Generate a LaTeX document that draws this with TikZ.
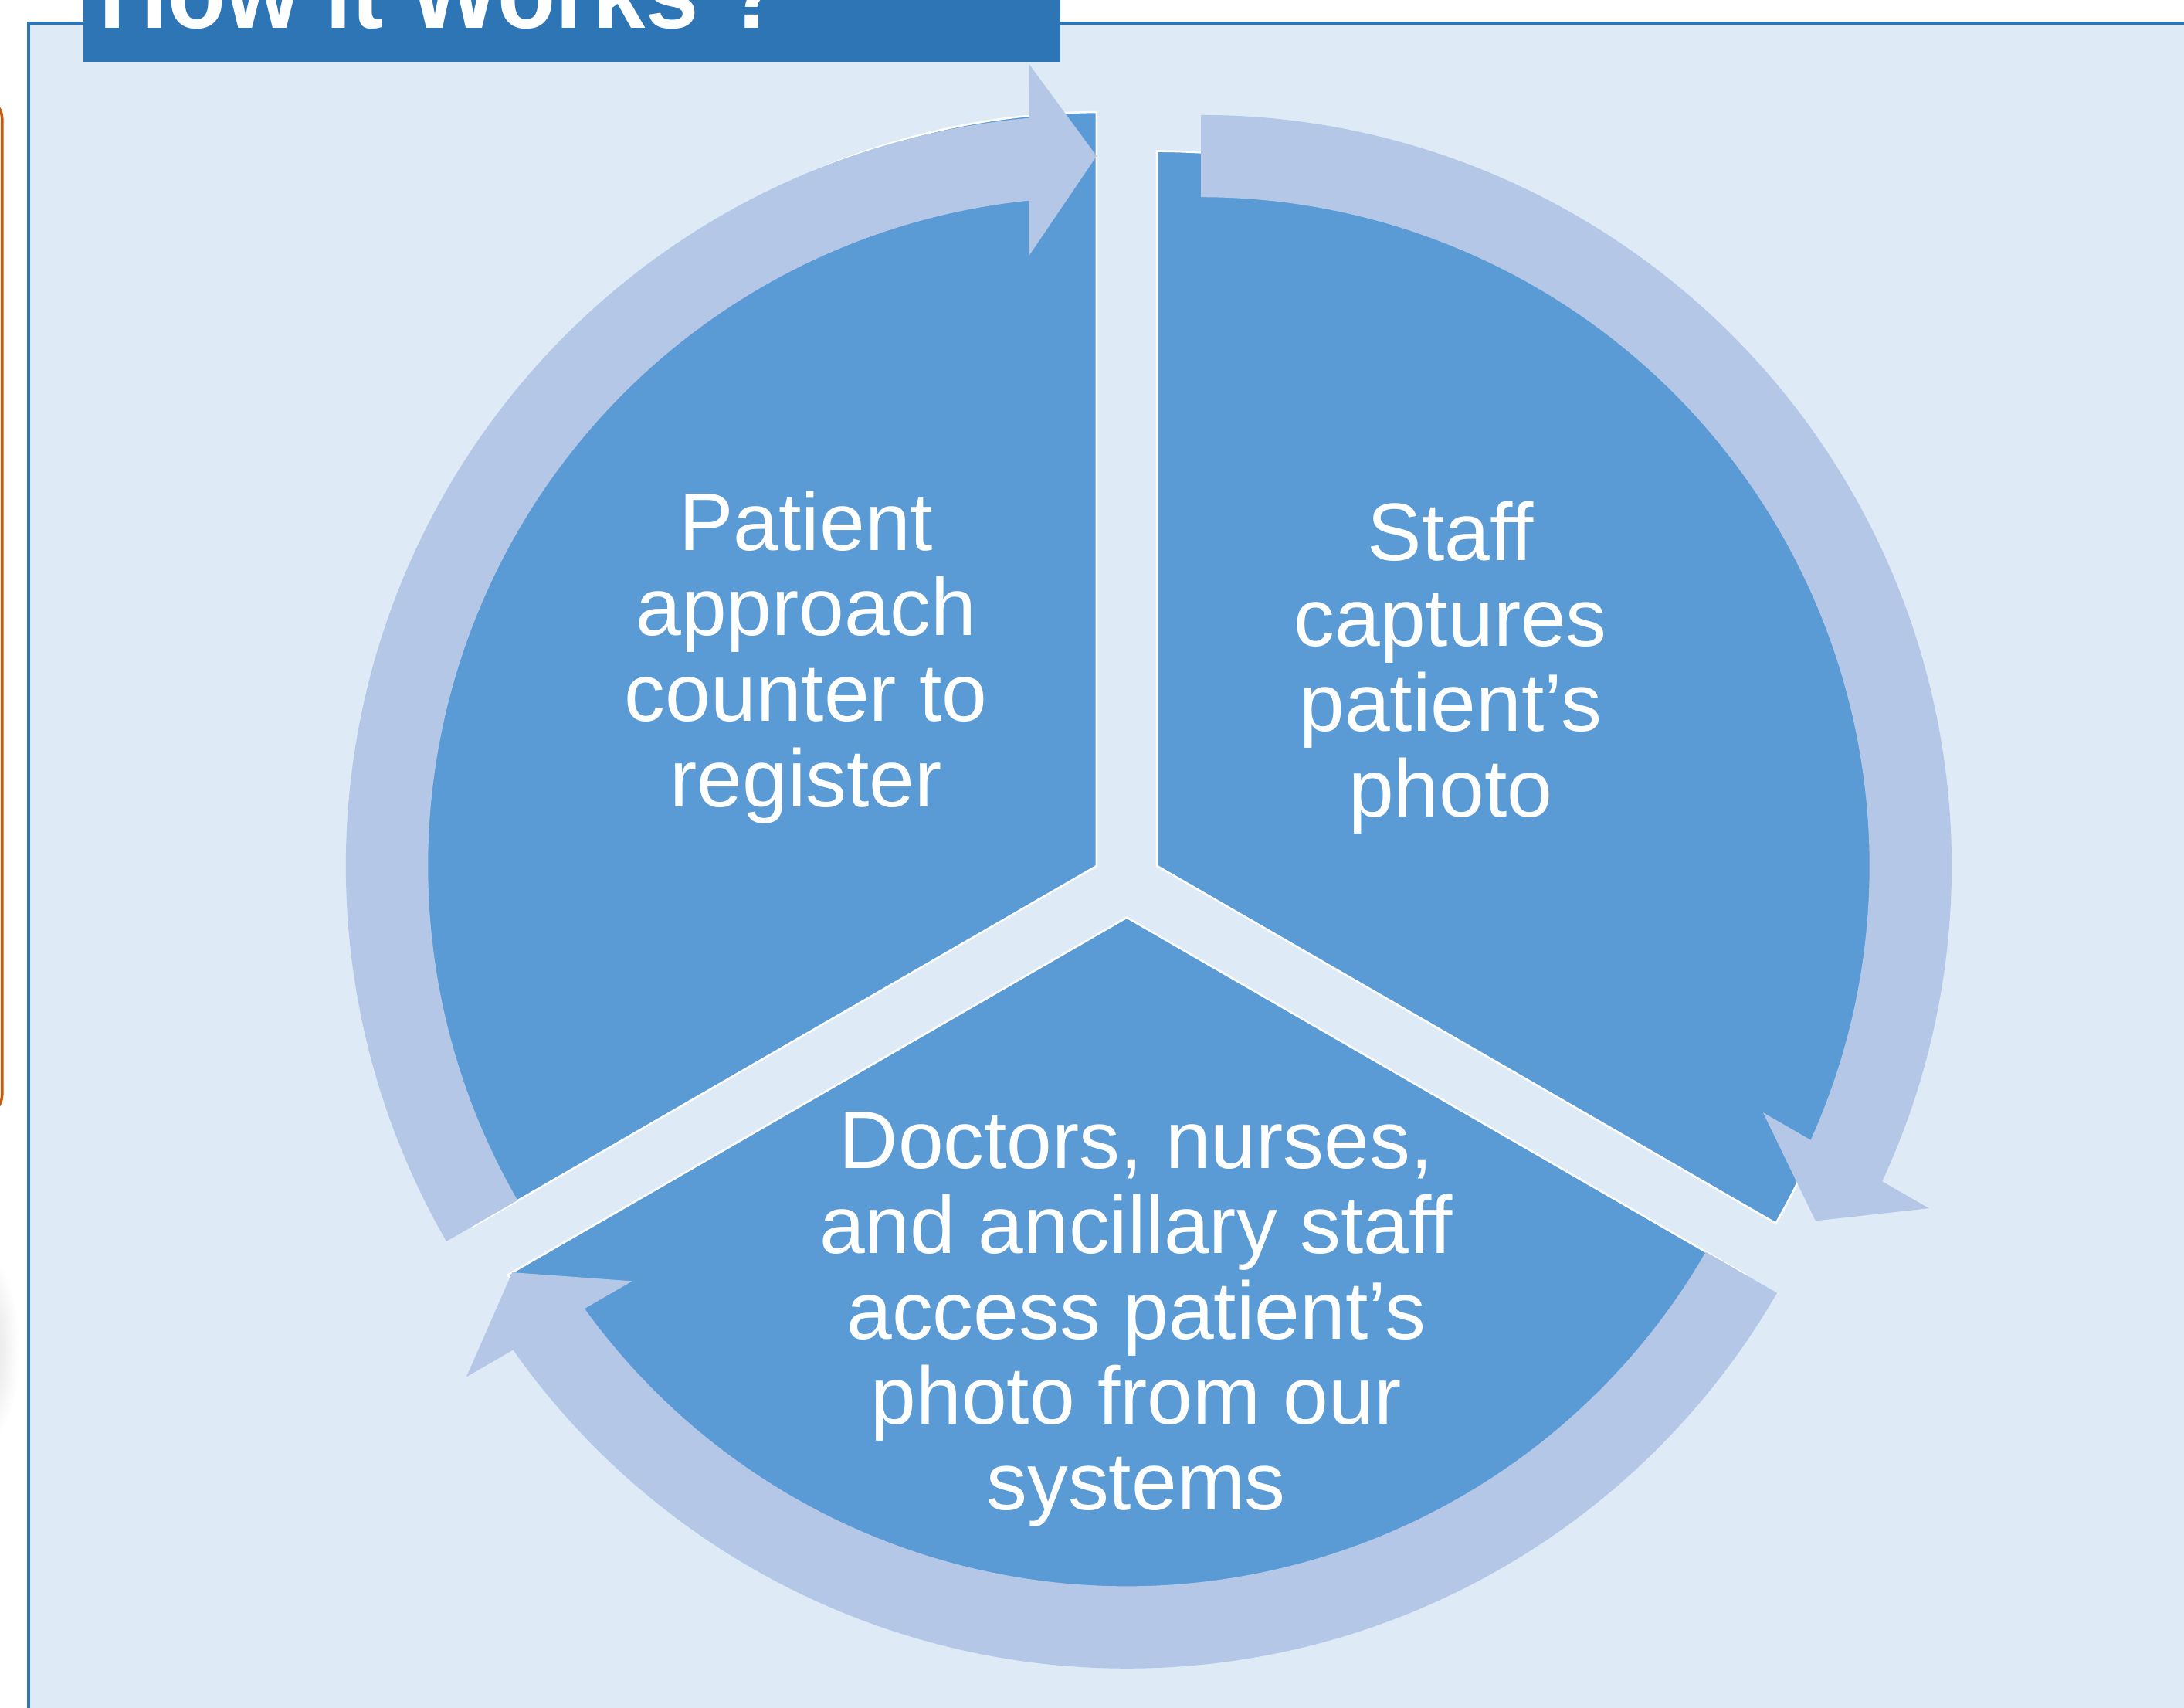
\documentclass[tikz,border=0pt]{standalone}
\usepackage{fontspec}
\setmainfont{Liberation Sans}
\definecolor{panelblue}{HTML}{DEEBF7}
\definecolor{frameblue}{HTML}{2E75B6}
\definecolor{wedgeblue}{HTML}{5B9BD5}
\definecolor{ringblue}{HTML}{B4C7E7}
\definecolor{edgeorange}{HTML}{C55A11}
\tikzset{
  wedge/.style={fill=wedgeblue,draw=white,line width=0.4pt},
  ring/.style={fill=ringblue},
  steptext/.style={text=white,align=center,inner sep=0pt,font=\fontsize{16.65pt}{17.44pt}\selectfont}
}
\begin{document}
\begin{tikzpicture}[x=0.01cm,y=0.01cm]
                  \useasboundingbox (0,0) rectangle (1568,-1225.9);
                  \clip (0,0) rectangle (1568,-1225.9);
                  \fill[white] (0,0) rectangle (1568,-1225.9);
                  \shade[inner color=black!14,outer color=white] (-12,-968) ellipse [x radius=26,y radius=70];
                  \draw[color=edgeorange,line width=0.57pt,rounded corners=4pt] (-40,-71) -- (1.5,-71) -- (1.5,-800) -- (-40,-800);
                  \fill[color=panelblue] (20.5,-16.5) rectangle (1600,-1260);
                  \draw[color=frameblue,line width=0.65pt] (20.5,-1260) -- (20.5,-16.5) -- (1600,-16.5);
                  \fill[color=frameblue] (60,10) rectangle (761.1,-44.4);
                  \node[anchor=base west,inner sep=0pt,text=white,xscale=0.945,font=\bfseries\fontsize{20.5pt}{24pt}\selectfont] (title) at (70.5,-20) {How it Works ?};
                  \coordinate (regc) at (787.3,-621.5);
                  \coordinate (capc) at (830.7,-621.5);
                  \coordinate (accc) at (809,-658.5);
                  \coordinate (capring) at (862.2,-621.5);
                  \draw[wedge] (regc) -- (787.3,-80.4) arc[start angle=90.52,end angle=211,radius=528] -- cycle;
                  \draw[wedge] (capc) -- ++(90:513) arc[start angle=90,end angle=-30,radius=513] -- cycle;
                  \draw[wedge] (accc) -- ++(330:513) arc[start angle=330,end angle=210,radius=513] -- cycle;
                  \foreach \c/\a in {regc/90, capring/-30, accc/210} {
                      \fill[ring,shift={(\c)},rotate=\a] (120:539) arc[start angle=120,end angle=5.16,radius=539]
                          -- (575.5,48.5) -- (509.5,0) -- (438,48.5)
                          -- (5.8:480) arc[start angle=5.8,end angle=120,radius=480] -- cycle;
                  }
                  \node[steptext] (register) at (578.7,-471.8) {Patient\\approach\\counter to\\register};
                  \node[steptext] (capture) at (1041.4,-479.2) {Staff\\captures\\patient’s\\photo};
                  \node[steptext] (access) at (815.7,-947) {Doctors, nurses,\\and ancillary staff\\access patient’s\\photo from our\\systems};
\end{tikzpicture}
\end{document}
